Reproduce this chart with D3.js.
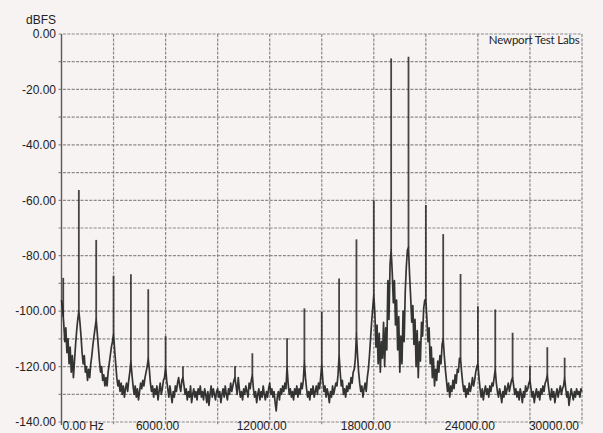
<!DOCTYPE html>
<html>
<head>
<meta charset="utf-8">
<script src="https://cdn.jsdelivr.net/npm/d3@7"></script>
<style>
  html, body { margin: 0; padding: 0; background: #f6f3f2; }
  svg { display: block; }
</style>
</head>
<body>
<svg id="chart" width="603" height="433"></svg>
<script>
// Analyser noise floor and skirts, 62.5 Hz bins, one row per kHz (dBFS)
const binHz = 62.5;
const floorDb = [
  -96, -99, -104, -111, -106, -115, -110, -119, -113, -122, -116, -124, -118, -112, -107, -103,
  -100, -104, -109, -115, -119, -116, -122, -120, -125, -121, -124, -119, -116, -112, -109, -106,
  -103, -108, -113, -118, -122, -120, -125, -123, -127, -124, -127, -122, -119, -116, -113, -111,
  -108, -114, -119, -124, -127, -125, -129, -126, -130, -127, -131, -128, -126, -129, -125, -122,
  -118, -123, -127, -130, -127, -131, -128, -132, -129, -126, -128, -125, -127, -124, -122, -120,
  -117, -121, -126, -129, -127, -131, -128, -130, -127, -132, -129, -126, -130, -128, -125, -124,
  -120, -125, -128, -131, -127, -130, -133, -129, -131, -127, -129, -126, -124, -127, -129, -125,
  -124, -127, -130, -128, -132, -129, -131, -127, -133, -130, -128, -131, -129, -132, -128, -130,
  -127, -131, -129, -132, -128, -130, -133, -129, -134, -130, -127, -131, -128, -130, -132, -129,
  -128, -131, -129, -133, -130, -128, -131, -127, -130, -132, -128, -130, -126, -129, -127, -125,
  -124, -127, -130, -124, -128, -131, -129, -132, -128, -130, -127, -129, -131, -126, -128, -125,
  -123, -128, -131, -129, -133, -130, -128, -132, -129, -131, -127, -130, -132, -129, -131, -128,
  -126, -130, -128, -131, -129, -133, -136, -131, -129, -132, -128, -130, -127, -129, -126, -128,
  -120, -126, -130, -128, -131, -129, -132, -128, -130, -127, -131, -128, -130, -126, -128, -125,
  -118, -124, -128, -131, -129, -132, -128, -130, -127, -131, -129, -127, -130, -126, -128, -124,
  -119, -125, -129, -127, -131, -128, -130, -133, -129, -131, -127, -130, -128, -126, -127, -123,
  -116, -122, -127, -125, -130, -128, -131, -127, -129, -126, -128, -124, -126, -122, -121, -117,
  -108, -116, -122, -126, -129, -127, -131, -128, -126, -129, -124, -121, -116, -110, -104, -99,
  -94, -101, -113, -105, -119, -108, -122, -111, -117, -104, -120, -106, -114, -89, -103, -83,
  -78, -86, -97, -89, -105, -96, -114, -102, -122, -109, -119, -100, -111, -93, -84, -78,
  -77, -87, -95, -104, -98, -112, -103, -120, -107, -124, -111, -118, -104, -109, -99, -96,
  -96, -103, -111, -106, -119, -113, -124, -117, -127, -121, -125, -118, -122, -116, -119, -112,
  -110, -116, -121, -125, -129, -126, -131, -127, -129, -125, -128, -123, -126, -121, -122, -117,
  -117, -122, -126, -129, -127, -131, -128, -130, -126, -129, -127, -124, -127, -125, -122, -120,
  -119, -124, -128, -131, -128, -132, -129, -127, -130, -128, -131, -127, -129, -126, -127, -124,
  -121, -126, -129, -131, -128, -130, -133, -129, -131, -127, -130, -128, -126, -129, -127, -125,
  -124, -127, -130, -128, -131, -129, -132, -128, -130, -133, -129, -131, -127, -129, -128, -126,
  -125, -128, -131, -129, -133, -130, -128, -131, -129, -132, -128, -130, -127, -129, -126, -125,
  -123, -127, -130, -132, -128, -131, -129, -133, -130, -128, -131, -129, -127, -130, -128, -127,
  -124, -128, -131, -129, -134, -131, -128, -130, -132, -129, -131, -128, -130, -129, -131, -128,
  -129
];

// Discrete tones: 19 kHz + 20 kHz test signal and its intermodulation products
const toneHz = [100, 1000, 2000, 3000, 4000, 5000, 6000, 7000, 10000, 11000,
  13000, 14000, 15000, 16000, 17000, 18000, 19000, 20000, 21000, 22000,
  23000, 24000, 25000, 26000, 27000, 28000, 29000];
const toneDb = [-88, -56.3, -74.3, -87.2, -86.7, -92.1, -109, -120, -119.8, -115.2,
  -109.8, -99, -100.2, -88.2, -74.1, -60, -8.8, -8.2, -61.7, -72.2,
  -86.6, -98.2, -99.4, -107.8, -119.8, -113, -116.8];

// axis ticks
const xTicks = [0, 6000, 12000, 18000, 24000, 30000];
const xTickLabels = ["0.00 Hz", "6000.00", "12000.00", "18000.00", "24000.00", "30000.00"];
const xGrid = [3000, 6000, 9000, 12000, 15000, 18000, 21000, 24000, 27000, 30000];
const yTicks = [0, -20, -40, -60, -80, -100, -120, -140];
const yGrid = [0, -10, -20, -30, -40, -50, -60, -70, -80, -90, -100, -110, -120, -130, -140];

const yUnit = "dBFS";
const credit = "Newport Test Labs";

const svg = d3.select("#chart");
const W = 603, H = 433;
const plot = { left: 61.5, right: 582, top: 34, bottom: 422 };

svg.append("rect").attr("width", W).attr("height", H).attr("fill", "#f6f3f2");

const x = d3.scaleLinear().domain([0, 30000]).range([plot.left, plot.right]);
const y = d3.scaleLinear().domain([-140, 0]).range([plot.bottom, plot.top]);

const gridColor = "#8a8a8a";
const grid = svg.append("g");

grid.selectAll("line.h").data(yGrid).join("line")
  .attr("class", "h")
  .attr("x1", plot.left - 3).attr("x2", plot.right)
  .attr("y1", d => y(d)).attr("y2", d => y(d))
  .attr("stroke", gridColor).attr("stroke-width", 1.2)
  .attr("stroke-dasharray", "3,1.4");

grid.selectAll("line.v").data(xGrid).join("line")
  .attr("class", "v")
  .attr("x1", d => x(d)).attr("x2", d => x(d))
  .attr("y1", plot.top).attr("y2", plot.bottom + 3)
  .attr("stroke", gridColor).attr("stroke-width", 1.2)
  .attr("stroke-dasharray", "3,1.4");

// left axis line
svg.append("line")
  .attr("x1", plot.left).attr("x2", plot.left)
  .attr("y1", plot.top).attr("y2", plot.bottom + 3)
  .attr("stroke", "#5a5a5a").attr("stroke-width", 1.4);

// noise floor trace
const line = d3.line()
  .x((d, i) => x(i * binHz))
  .y(d => y(d));

svg.append("path")
  .datum(floorDb)
  .attr("d", line)
  .attr("fill", "none")
  .attr("stroke", "#1f1f1f")
  .attr("stroke-width", 1.7)
  .attr("stroke-linejoin", "round")
  .attr("stroke-opacity", 0.9);

// floor level under a tone, read from the neighbouring bins
function floorAt(f) {
  const p = f / binHz, i = Math.floor(p), t = p - i;
  const a = floorDb[i], b = floorDb[Math.min(i + 1, floorDb.length - 1)];
  return a + (b - a) * t;
}

svg.append("g").selectAll("line").data(toneHz).join("line")
  .attr("x1", d => x(d)).attr("x2", d => x(d))
  .attr("y1", d => y(floorAt(d)))
  .attr("y2", (d, i) => y(toneDb[i]))
  .attr("stroke", "#262626")
  .attr("stroke-width", 1.8)
  .attr("stroke-opacity", 0.85);

// y labels
const font = "'Liberation Sans', Arial, sans-serif";
svg.append("g").selectAll("text").data(yTicks).join("text")
  .attr("x", 56)
  .attr("y", d => y(d))
  .attr("dy", "0.36em")
  .attr("text-anchor", "end")
  .attr("font-family", font).attr("font-size", 12)
  .attr("fill", "#222")
  .text(d => d.toFixed(2));

svg.append("text")
  .attr("x", 56).attr("y", 24)
  .attr("text-anchor", "end")
  .attr("font-family", font).attr("font-size", 12)
  .attr("fill", "#222")
  .text(yUnit);

// x labels
svg.append("g").selectAll("text").data(xTicks).join("text")
  .attr("x", (d, i) => i === 0 ? x(d) + 1 : (i === xTicks.length - 1 ? x(d) - 3 : x(d) - 8))
  .attr("y", 430)
  .attr("text-anchor", (d, i) => i === 0 ? "start" : (i === xTicks.length - 1 ? "end" : "middle"))
  .attr("font-family", font).attr("font-size", 12)
  .attr("fill", "#222")
  .text((d, i) => xTickLabels[i]);

// credit
svg.append("text")
  .attr("x", 579.5).attr("y", 44)
  .attr("text-anchor", "end")
  .attr("font-family", "Lato, 'Open Sans', sans-serif").attr("font-size", 11.5)
  .attr("letter-spacing", -0.2)
  .attr("fill", "#1e1e1e")
  .text(credit);
</script>
</body>
</html>
